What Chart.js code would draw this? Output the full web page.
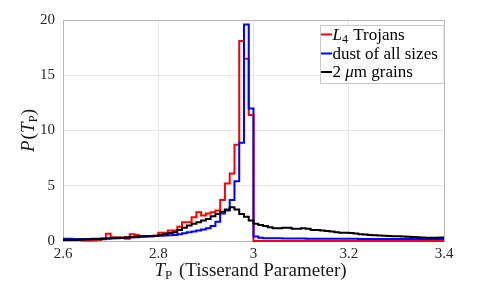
<!DOCTYPE html>
<html>
<head>
<meta charset="utf-8">
<script src="https://cdn.jsdelivr.net/npm/chart.js@4"></script>
<style>
  body { margin: 0; background: #fff; }
  #wrap { width: 491px; height: 286px; }
</style>
</head>
<body>
<div id="wrap"><canvas id="chart" width="491" height="286"></canvas></div>
<script>
// histogram bins: 2.60 .. 3.40, width 0.01
const binStart = 2.6;
const binWidth = 0.01;

const xTicks = [2.6, 2.8, 3.0, 3.2, 3.4];
const yTicks = [0, 5, 10, 15, 20];

const seriesNames = ['L4 Trojans', 'dust of all sizes', '2 μm grains'];

const trojans = [
  0.15, 0.12, 0.10, 0.08, 0.05, 0.05, 0.05, 0.10, 0.15, 0.65,
  0.35, 0.35, 0.30, 0.20, 0.60, 0.55, 0.45, 0.45, 0.45, 0.50,
  0.75, 0.75, 0.95, 0.95, 1.30, 1.70, 1.70, 2.15, 2.60, 2.30,
  2.50, 2.60, 2.75, 3.70, 5.20, 6.10, 8.70, 18.1, 16.5, 11.4,
  0.01, 0.01, 0.00, 0.00, 0.00, 0.00, 0.00, 0.00, 0.00, 0.00,
  0.00, 0.00, 0.00, 0.00, 0.00, 0.00, 0.00, 0.00, 0.00, 0.00,
  0.00, 0.00, 0.00, 0.00, 0.00, 0.00, 0.00, 0.00, 0.00, 0.00,
  0.00, 0.00, 0.00, 0.00, 0.00, 0.00, 0.00, 0.00, 0.00, 0.00
];

const dustAll = [
  0.20, 0.20, 0.18, 0.18, 0.18, 0.18, 0.20, 0.20, 0.22, 0.22,
  0.25, 0.25, 0.28, 0.30, 0.32, 0.35, 0.38, 0.40, 0.42, 0.45,
  0.48, 0.50, 0.52, 0.55, 0.60, 0.70, 0.80, 0.85, 0.95, 1.05,
  1.15, 1.35, 1.75, 2.50, 2.75, 3.70, 5.40, 8.90, 19.6, 12.0,
  0.40, 0.30, 0.26, 0.25, 0.24, 0.24, 0.23, 0.23, 0.22, 0.22,
  0.22, 0.21, 0.21, 0.21, 0.21, 0.20, 0.20, 0.20, 0.20, 0.20,
  0.20, 0.20, 0.19, 0.19, 0.19, 0.19, 0.19, 0.19, 0.19, 0.19,
  0.18, 0.18, 0.18, 0.18, 0.18, 0.18, 0.18, 0.18, 0.18, 0.18
];

const grains2um = [
  0.10, 0.10, 0.10, 0.12, 0.14, 0.15, 0.17, 0.19, 0.21, 0.23,
  0.26, 0.28, 0.30, 0.33, 0.36, 0.38, 0.40, 0.42, 0.44, 0.46,
  0.55, 0.60, 0.72, 0.80, 1.00, 1.20, 1.40, 1.55, 1.70, 1.85,
  2.00, 2.25, 2.45, 2.65, 2.85, 3.05, 2.85, 2.45, 2.20, 1.85,
  1.55, 1.45, 1.35, 1.25, 1.15, 1.15, 1.20, 1.20, 1.10, 1.10,
  1.15, 1.10, 1.00, 1.00, 0.95, 0.90, 0.85, 0.80, 0.75, 0.75,
  0.72, 0.68, 0.62, 0.58, 0.55, 0.52, 0.50, 0.48, 0.46, 0.44,
  0.42, 0.40, 0.38, 0.36, 0.34, 0.32, 0.30, 0.30, 0.30, 0.32
];

const colors = ['#ff0000', '#0000ff', '#000000'];

// turn bin values into step points (left edges + closing right edge)
function toSteps(vals) {
  const pts = vals.map((v, i) => ({ x: +(binStart + i * binWidth).toFixed(2), y: v }));
  pts.push({ x: +(binStart + vals.length * binWidth).toFixed(2), y: vals[vals.length - 1] });
  return pts;
}

const serif = '"Liberation Serif", "Times New Roman", serif';

// draw a run of text pieces (for italics and subscripts)
function drawRuns(ctx, runs, x, y) {
  let cx = x;
  runs.forEach(r => {
    ctx.font = r.font;
    ctx.fillText(r.t, cx, y + (r.dy || 0));
    cx += ctx.measureText(r.t).width + (r.gap || 0);
  });
}
function runsWidth(ctx, runs) {
  let w = 0;
  runs.forEach(r => { ctx.font = r.font; w += ctx.measureText(r.t).width + (r.gap || 0); });
  return w;
}

const f = (size, it) => (it ? 'italic ' : '') + size + 'px ' + serif;

const extras = {
  id: 'extras',
  beforeDatasetsDraw(chart) {
    const { ctx, chartArea: a } = chart;
    ctx.save();
    ctx.strokeStyle = '#b8b8b8';
    ctx.lineWidth = 1;
    ctx.strokeRect(Math.round(a.left) + 0.5, Math.round(a.top) + 0.5,
      Math.round(a.right - a.left), Math.round(a.bottom - a.top));
    ctx.restore();
  },
  afterDraw(chart) {
    const { ctx, chartArea: a } = chart;
    ctx.save();
    ctx.fillStyle = '#1a1a1a';
    ctx.textBaseline = 'alphabetic';

    // x axis title
    const xr = [
      { t: 'T', font: f(19, true) },
      { t: 'P', font: f(13), dy: 3, gap: 2 },
      { t: ' (Tisserand Parameter)', font: f(19) }
    ];
    const xw = runsWidth(ctx, xr);
    drawRuns(ctx, xr, (a.left + a.right) / 2 - xw / 2 - 3, 276);

    // y axis title
    const yr = [
      { t: 'P', font: f(19, true), gap: 1 },
      { t: '(', font: f(19) },
      { t: 'T', font: f(19, true) },
      { t: 'P', font: f(13), dy: 3 },
      { t: ')', font: f(19) }
    ];
    const yw = runsWidth(ctx, yr);
    ctx.save();
    ctx.translate(34, (a.top + a.bottom) / 2);
    ctx.rotate(-Math.PI / 2);
    drawRuns(ctx, yr, -yw / 2, 0);
    ctx.restore();

    // legend
    const lx = 320.5, ly = 25.5, lw = 123.5, lh = 58;
    ctx.fillStyle = '#fff';
    ctx.fillRect(lx, ly, lw, lh);
    ctx.strokeStyle = '#c8c8c8';
    ctx.lineWidth = 1;
    ctx.strokeRect(lx, ly, lw, lh);
    const items = [
      [{ t: 'L', font: f(17, true) }, { t: '4', font: f(12), dy: 3, gap: 1 }, { t: ' Trojans', font: f(17) }],
      [{ t: 'dust of all sizes', font: f(17) }],
      [{ t: '2 ', font: f(17) }, { t: 'μ', font: f(17, true) }, { t: 'm grains', font: f(17) }]
    ];
    const rowY = [34.5, 53.5, 72];
    items.forEach((runs, i) => {
      ctx.strokeStyle = colors[i];
      ctx.lineWidth = 2;
      ctx.beginPath();
      ctx.moveTo(321, rowY[i]);
      ctx.lineTo(332, rowY[i]);
      ctx.stroke();
      ctx.fillStyle = '#000';
      drawRuns(ctx, runs, 332.5, rowY[i] + 5);
    });
    ctx.restore();
  }
};

const datasets = [trojans, dustAll, grains2um].map((vals, i) => ({
  label: seriesNames[i],
  data: toSteps(vals),
  borderColor: colors[i],
  backgroundColor: colors[i],
  borderWidth: 2,
  stepped: 'before',
  pointRadius: 0,
  fill: false,
  clip: 4,
  order: 3 - i
}));

new Chart(document.getElementById('chart'), {
  type: 'line',
  data: { datasets: datasets },
  options: {
    responsive: false,
    animation: false,
    events: [],
    layout: { padding: { top: 20, right: 47, left: 0, bottom: 0 } },
    plugins: {
      legend: { display: false },
      tooltip: { enabled: false }
    },
    scales: {
      x: {
        type: 'linear',
        min: 2.6,
        max: 3.4,
        afterFit: s => { s.height = 45; },
        afterBuildTicks: s => { s.ticks = xTicks.map(v => ({ value: v })); },
        ticks: {
          color: '#262626',
          font: { family: serif, size: 15 },
          padding: 4,
          maxRotation: 0,
          callback: v => String(parseFloat(v.toFixed(1)))
        },
        grid: { color: '#e6e6e6', drawTicks: false },
        border: { display: false }
      },
      y: {
        min: 0,
        max: 20,
        afterFit: s => { s.width = 63; },
        afterBuildTicks: s => { s.ticks = yTicks.map(v => ({ value: v })); },
        ticks: {
          color: '#262626',
          font: { family: serif, size: 15 },
          padding: 8
        },
        grid: { color: '#e6e6e6', drawTicks: false },
        border: { display: false }
      }
    }
  },
  plugins: [extras]
});
</script>
</body>
</html>
